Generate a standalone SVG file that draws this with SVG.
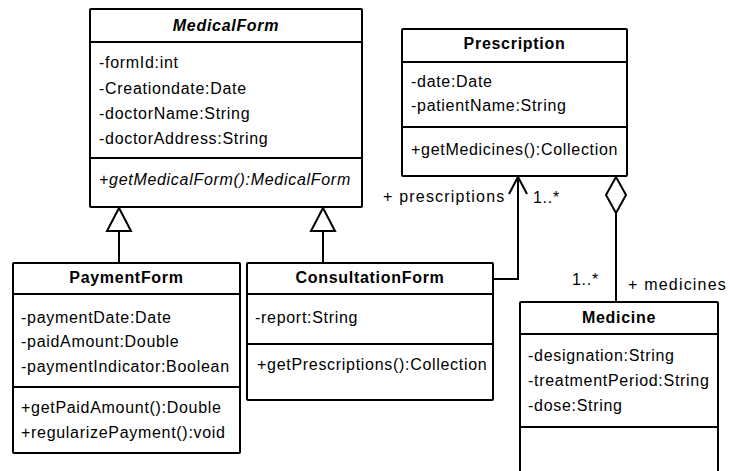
<svg xmlns="http://www.w3.org/2000/svg" width="730" height="471" viewBox="0 0 730 471">
  <style>
    .box { fill: #ffffff; stroke: #000000; stroke-width: 2; }
    .sep { stroke: #000000; stroke-width: 2; }
    .edge { fill: none; stroke: #000000; stroke-width: 2; }
    .head { fill: #ffffff; stroke: #000000; stroke-width: 2; stroke-linejoin: miter; }
    text { font-family: "Liberation Sans", Arial, sans-serif; font-size: 16px; letter-spacing: 0.7px; fill: #000000; }
    .title { font-weight: bold; text-anchor: middle; }
    .ital { font-style: italic; }
    .role { letter-spacing: 1.2px; }
  </style>

  <!-- connectors -->
  <g id="connectors">
    <!-- generalizations to MedicalForm -->
    <line class="edge" x1="119" y1="231" x2="119" y2="263"/>
    <polygon class="head" points="119,208 107,231 131,231"/>
    <line class="edge" x1="323" y1="231" x2="323" y2="263"/>
    <polygon class="head" points="323,208 311,231 335,231"/>
    <!-- ConsultationForm to Prescription association -->
    <polyline class="edge" points="493,279 518,279 518,177"/>
    <polyline class="edge" points="509,194 518,177 527,194"/>
    <text class="role" x="383" y="202">+ prescriptions</text>
    <text x="533" y="203">1..*</text>
    <!-- Prescription aggregates Medicine -->
    <line class="edge" x1="616" y1="213" x2="616" y2="302"/>
    <polygon class="head" points="616,177 606,195 616,213 626,195"/>
    <text x="572" y="285">1..*</text>
    <text class="role" x="628" y="290">+ medicines</text>
  </g>

  <g id="MedicalForm">
    <rect class="box" x="90" y="9" width="272" height="198" rx="1"/>
    <line class="sep" x1="90" y1="42" x2="362" y2="42"/>
    <line class="sep" x1="90" y1="158" x2="362" y2="158"/>
    <text class="title ital" x="226" y="31">MedicalForm</text>
    <text x="99" y="68">-formId:int</text>
    <text x="99" y="94">-Creationdate:Date</text>
    <text x="99" y="119">-doctorName:String</text>
    <text x="99" y="144">-doctorAddress:String</text>
    <text class="ital" x="99" y="185">+getMedicalForm():MedicalForm</text>
  </g>

  <g id="Prescription">
    <rect class="box" x="402" y="29" width="225" height="147" rx="1"/>
    <line class="sep" x1="402" y1="62" x2="627" y2="62"/>
    <line class="sep" x1="402" y1="127" x2="627" y2="127"/>
    <text class="title" x="514.5" y="49">Prescription</text>
    <text x="411" y="87">-date:Date</text>
    <text x="411" y="111">-patientName:String</text>
    <text x="411" y="155">+getMedicines():Collection</text>
  </g>

  <g id="PaymentForm">
    <rect class="box" x="13" y="263" width="227" height="190" rx="1"/>
    <line class="sep" x1="13" y1="294" x2="240" y2="294"/>
    <line class="sep" x1="13" y1="387" x2="240" y2="387"/>
    <text class="title" x="126.5" y="283">PaymentForm</text>
    <text x="21" y="323">-paymentDate:Date</text>
    <text x="21" y="347">-paidAmount:Double</text>
    <text x="21" y="372">-paymentIndicator:Boolean</text>
    <text x="21" y="413">+getPaidAmount():Double</text>
    <text x="21" y="438">+regularizePayment():void</text>
  </g>

  <g id="ConsultationForm">
    <rect class="box" x="247" y="263" width="246" height="137" rx="1"/>
    <line class="sep" x1="247" y1="294" x2="493" y2="294"/>
    <line class="sep" x1="247" y1="344" x2="493" y2="344"/>
    <text class="title" x="370" y="283">ConsultationForm</text>
    <text x="255" y="323">-report:String</text>
    <text x="257" y="370">+getPrescriptions():Collection</text>
  </g>

  <g id="Medicine">
    <rect class="box" x="520" y="302" width="198" height="190" rx="1"/>
    <line class="sep" x1="520" y1="334" x2="718" y2="334"/>
    <line class="sep" x1="520" y1="427" x2="718" y2="427"/>
    <text class="title" x="619" y="323">Medicine</text>
    <text x="528" y="361">-designation:String</text>
    <text x="528" y="386">-treatmentPeriod:String</text>
    <text x="528" y="411">-dose:String</text>
  </g>
</svg>
